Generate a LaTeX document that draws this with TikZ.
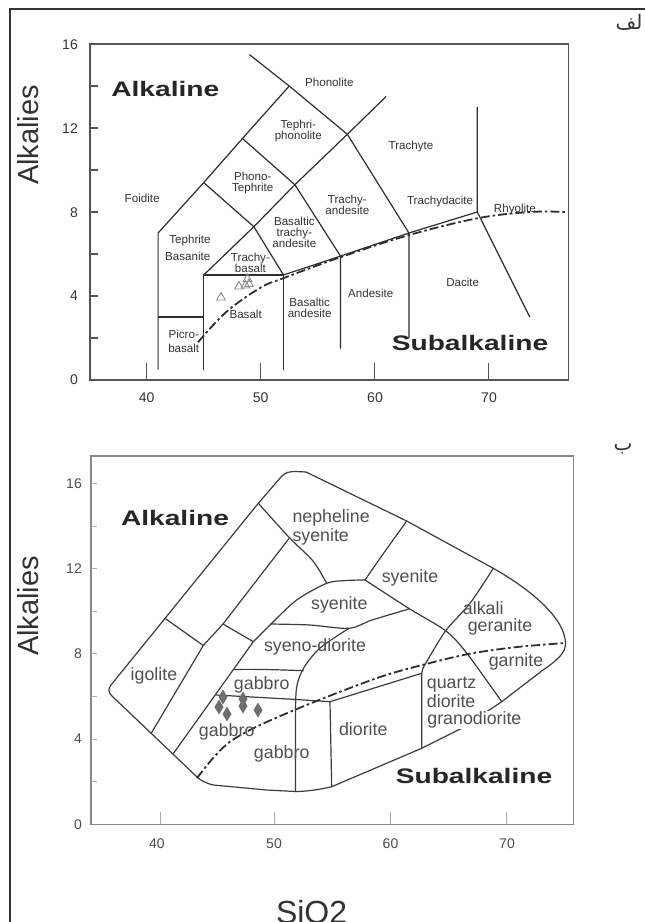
\documentclass[tikz,border=0pt]{standalone}
\usepackage{fontspec}
\setmainfont{Liberation Sans}
\newfontfamily\arabicfont[Script=Arabic]{DejaVu Sans}
\usepackage{graphicx}
\usetikzlibrary{shapes.geometric}
\TeXXeTstate=1
\definecolor{ln}{HTML}{2E2E2E}
\definecolor{ln2}{HTML}{3C3C3C}
\definecolor{tl}{HTML}{333333}
\definecolor{lt}{HTML}{505050}
\definecolor{tk}{HTML}{333333}
\definecolor{bx}{HTML}{555555}
\definecolor{bx2}{HTML}{888888}
\definecolor{tk2}{HTML}{AAAAAA}
\definecolor{pt}{HTML}{6E6E6E}
\definecolor{tri}{HTML}{8C8C8C}
\newcommand{\BigLab}[1]{\scalebox{1.34}[1]{\bfseries\fontsize{21}{21}\selectfont #1}}
\begin{document}
\begin{tikzpicture}[x=1pt,y=-1pt,
  tas/.style={font=\fontsize{11.6}{11}\selectfont,text=tl,align=center,inner sep=0pt},
  low/.style={font=\fontsize{17.8}{18.6}\selectfont,text=lt,align=left,inner sep=0pt},
  ticklab/.style={font=\fontsize{14}{14}\selectfont,text=tk,inner sep=0pt},
  axl/.style={font=\fontsize{29}{29}\selectfont,text=tk,inner sep=0pt},
  fld/.style={draw=ln,line width=1.2pt,line join=round},
  fld2/.style={draw=ln2,line width=1.2pt,line join=round},
  dd/.style={draw=ln,line width=1.8pt,dash pattern=on 9pt off 3pt on 2.5pt off 3pt},
  big/.style={inner sep=0pt,text=black!85}]
\useasboundingbox (0,0) rectangle (645,922);
\fill[white] (0,0) rectangle (645,922);
% outer frame
\draw[line width=2.2pt,draw=black!80] (10,923) -- (10,9) -- (646,9);
\node[font=\arabicfont\fontsize{20}{20}\selectfont,text=tk] (ar1) at (629,22) {\beginR لف\endR};
\node[font=\arabicfont\fontsize{20}{20}\selectfont,text=tk] (ar2) at (623,449) {\beginR ب\endR};

% ================= TOP PLOT (TAS) =================
\begin{scope}[shift={(-309.3pt,-380pt)},x=11.4pt,y=21pt]
  \draw[draw=bx,line width=1.8pt] (35,0) rectangle (77,16);
  \foreach \yy in {2,4,...,14} \draw[draw=bx,line width=1.2pt] (35,\yy) -- (35.7,\yy);
  \foreach \xx in {40,50,60,70} \draw[draw=bx,line width=1.2pt] (\xx,0) -- (\xx,0.8);
  % fields
  \draw[fld] (41,0.5) -- (41,7) -- (45,9.4) -- (48.4,11.5) -- (52.5,14) -- (57.6,11.7) -- (63,7) -- (63,2);
  \draw[fld] (49,15.5) -- (52.5,14);
  \draw[fld] (41,3) -- (45,3);
  \draw[fld] (45,0.5) -- (45,5) -- (52,5) -- (52,0.5);
  \draw[fld] (45,5) -- (49.4,7.3) -- (53,9.3) -- (57.6,11.7) -- (61,13.5);
  \draw[fld] (45,9.4) -- (49.4,7.3) -- (52,5);
  \draw[fld] (48.4,11.5) -- (53,9.3) -- (57,5.9) -- (57,1.5);
  \draw[fld] (52,5) -- (57,5.9) -- (63,7) -- (69,8) -- (69,13);
  \draw[fld] (69,8) -- (73.6,3);
  \draw[dd] plot[smooth,tension=0.6] coordinates {(44.5,1.8) (47,3.25) (50,4.4) (52,4.85) (57,5.85) (63,6.9) (69,7.7) (73.6,8.0) (76.7,8.0)};
  % labels
  \node[tas] (phon) at (56.02,14.16) {Phonolite};
  \node[tas] (tphon) at (53.3,11.88) {Tephri-\\phonolite};
  \node[tas] (ptep) at (49.3,9.4) {Phono-\\Tephrite};
  \node[tas] (foid) at (39.6,8.65) {Foidite};
  \node[tas] (tand) at (57.6,8.35) {Trachy-\\andesite};
  \node[tas] (teph) at (43.8,6.63) {Tephrite};
  \node[tas] (basn) at (43.6,5.9) {Basanite};
  \node[tas] (btand) at (52.95,7.03) {Basaltic\\trachy-\\andesite};
  \node[tas] (tbas) at (49.1,5.58) {Trachy-\\basalt};
  \node[tas] (bas) at (48.68,3.14) {Basalt};
  \node[tas] (band) at (54.3,3.43) {Basaltic\\andesite};
  \node[tas,font=\fontsize{11.6}{14}\selectfont] (picro) at (43.25,1.85) {Picro-\\basalt};
  \node[tas] (andes) at (59.65,4.15) {Andesite};
  \node[tas] (tdac) at (65.73,8.49) {Trachydacite};
  \node[tas] (rhy) at (72.3,8.13) {Rhyolite};
  \node[tas] (dac) at (67.72,4.65) {Dacite};
  \node[tas] (trach) at (63.18,11.14) {Trachyte};
  \node[big] (alk1) at (41.63,13.84) {\BigLab{Alkaline}};
  \node[big] (sub1) at (68.36,1.75) {\BigLab{Subalkaline}};
\end{scope}
% triangles (top plot samples)
\foreach \px/\py [count=\i] in {221/297.5, 239/286.5, 245.5/285.5, 249/284, 247.5/279} {
  \node[regular polygon,regular polygon sides=3,draw=tri,line width=0.9pt,minimum size=10pt,inner sep=0pt] (tr\i) at (\px,\py) {};
}
% top axes labels
\foreach \v/\yy in {16/45,12/129,8/213,4/296,0/380} \node[ticklab,anchor=east] (ty\v) at (78,\yy) {\v};
\foreach \v/\xx in {40/146.7,50/260.7,60/375,70/489} \node[ticklab] (tx\v) at (\xx,398) {\v};
\node[axl,rotate=90] (alkal1) at (28,135) {Alkalies};

% ================= BOTTOM PLOT =================
\draw[draw=bx2,line width=1.5pt] (91,456) rectangle (573.3,824.3);
\foreach \yy in {2,4,...,16} \draw[draw=tk2,line width=1pt] (91,824.3-21.3*\yy) -- (97,824.3-21.3*\yy);
\foreach \xx in {160,274,390,506} \draw[draw=tk2,line width=1pt] (\xx,824.3) -- (\xx,812);
% outer boundary
\draw[fld2] (258.3,503.3) -- (281,477) .. controls (285,472) and (290,471.5) .. (296,471.5) -- (306,472)
  -- (406.7,521) -- (493.3,568.3) .. controls (535,592) and (565,620) .. (565.5,643)
  .. controls (566,652) and (558,660) .. (543,670) -- (501.7,701.7) -- (461.7,728.3) -- (421.7,748.3)
  -- (331.7,786.7) .. controls (318,790) and (305,791.5) .. (295.5,791.5) -- (266.7,790) -- (213.3,785)
  .. controls (205,783) and (200,780) .. (196.7,776.7) -- (112,696) .. controls (108,692) and (108,689) .. (111,685) -- cycle;
% interior lines
\draw[fld2] plot[smooth,tension=0.5] coordinates {(258.3,503.3) (290,538.3) (313,561) (326.7,583.3)};
\draw[fld2] (151.2,733.3) -- (203.3,645.5) -- (223,624) -- (289,538.5);
\draw[fld2] (173,754) -- (253.3,641.7);
\draw[fld2] plot[smooth,tension=0.5] coordinates {(253.3,641.7) (271.7,623.3) (296.7,600) (326.7,583.3) (346.7,580.5) (365,580)};
\draw[fld2] plot[smooth,tension=0.5] coordinates {(365,580) (380,558.3) (406.7,521)};
\draw[fld2] plot[smooth,tension=0.5] coordinates {(365,580) (409,608.5) (446,631) (467,653.5) (501.7,701.7)};
\draw[fld2] plot[smooth,tension=0.5] coordinates {(493.3,568.3) (470,603.3) (445,631.7) (423,668)} -- (421.7,673.3) -- (421.7,748.3);
\draw[fld2] plot[smooth,tension=0.5] coordinates {(270.7,624) (310,625) (349,628.3) (372,620) (409,609)};
\draw[fld2] plot[smooth,tension=0.5] coordinates {(349,628.3) (320,648) (303.7,668) (296.5,688) (295.5,720)} -- (295.5,791.5);
\draw[fld2] (233.8,669.5) .. controls (260,669) and (285,670) .. (303.7,670.7);
\draw[fld2] (215.9,695) -- (293.3,699.3) -- (330,701.7) -- (421.7,673.3);
\draw[fld2] (330,701.7) -- (331.7,786.7);
\draw[fld2] (165,618.3) -- (203.3,645.5);
\draw[fld2] (223,624) -- (253.3,641.7);
\draw[dd] plot[smooth,tension=0.5] coordinates {(197,778) (214,757) (231,741) (260,725) (314,702) (380,677) (426,664) (471,653.5) (517,647) (565,643)};
% diamonds
\foreach \px/\py [count=\i] in {223/697, 219/707, 227/714, 243/699, 243/706, 258/710} {
  \fill[pt] (\px,\py-7.5) -- (\px+4.5,\py) -- (\px,\py+7.5) -- (\px-4.5,\py) -- cycle;
}
% labels
\node[big] (alk2) at (175,517.7) {\BigLab{Alkaline}};
\node[big] (sub2) at (474,776) {\BigLab{Subalkaline}};
\node[low,anchor=west] (neph) at (292.3,527.5) {nepheline\\syenite};
\node[low] (sye1) at (410,578.3) {syenite};
\node[low] (sye2) at (339.3,605) {syenite};
\node[low,anchor=west] (alkg) at (462.7,608.3) {alkali};
\node[low] (ger) at (500,626.7) {geranite};
\node[low] (sydi) at (315,647.3) {syeno-diorite};
\node[low] (gab1) at (261.7,685) {gabbro};
\node[low] (gab2) at (226.7,731.7) {gabbro};
\node[low] (gab3) at (281.7,754) {gabbro};
\node[low] (igo) at (154,676) {igolite};
\node[low] (dio) at (363.3,729.3) {diorite};
\node[low] (garn) at (516,661.7) {garnite};
\node[low,anchor=west] (qd) at (426.7,692.2) {quartz\\diorite};
\node[low,anchor=west,fill=white,inner sep=0.5pt] (grd) at (426.7,720) {granodiorite};
% bottom axes labels
\foreach \v/\yy in {16/483.5,12/568.7,8/653.9,4/739.1,0/824.3} \node[ticklab,anchor=east,text=black!70] (by\v) at (82,\yy) {\v};
\foreach \v/\xx in {40/157,50/274,60/390.5,70/507} \node[ticklab,text=black!70] (bx\v) at (\xx,843.5) {\v};
\node[axl,rotate=90] (alkal2) at (28,606) {Alkalies};
\node[font=\fontsize{32}{32}\selectfont,text=tk,inner sep=0pt,anchor=base] (sio2) at (311.6,923) {SiO2};
\end{tikzpicture}
\end{document}
